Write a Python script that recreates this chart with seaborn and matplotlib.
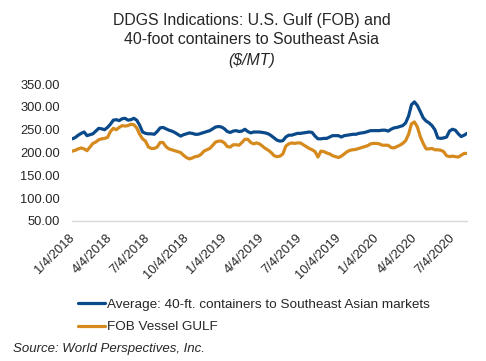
import pandas as pd
import matplotlib.pyplot as plt
import seaborn as sns

# Weekly indications, $/MT
start_date = "2018-01-04"
container_avg = [
    230, 233, 238, 242, 245, 237, 239, 241, 247, 253, 252, 250, 255, 262, 271, 272,
    270, 274, 275, 271, 272, 275, 271, 260, 245, 242, 241, 241, 240, 246, 254, 255,
    252, 249, 247, 244, 240, 236, 239, 241, 243, 242, 240, 240, 242, 244, 246, 248,
    252, 256, 257, 256, 252, 246, 244, 247, 248, 246, 247, 251, 246, 243, 245, 245,
    245, 244, 243, 241, 237, 232, 227, 225, 226, 234, 238, 238, 240, 242, 242, 243,
    244, 245, 244, 236, 230, 230, 231, 231, 234, 237, 237, 237, 234, 237, 238, 239,
    240, 240, 242, 243, 244, 246, 248, 248, 248, 248, 249, 249, 247, 251, 254, 255,
    257, 259, 265, 280, 305, 311, 303, 290, 276, 269, 265, 259, 250, 232, 231, 232,
    234, 247, 251, 249, 241, 235, 238, 242,
]
fob_gulf = [
    203, 205, 208, 210, 208, 204, 212, 220, 223, 228, 230, 231, 233, 246, 253, 250,
    255, 259, 258, 259, 262, 261, 254, 240, 230, 225, 212, 209, 209, 212, 222, 222,
    213, 208, 206, 204, 202, 200, 194, 189, 186, 188, 191, 192, 196, 203, 206, 209,
    216, 223, 225, 225, 221, 213, 212, 217, 217, 216, 222, 229, 229, 222, 219, 221,
    219, 214, 209, 205, 200, 193, 191, 192, 197, 214, 219, 221, 220, 221, 221, 217,
    213, 209, 206, 202, 190, 203, 202, 199, 197, 193, 191, 189, 192, 197, 202, 205,
    206, 207, 209, 211, 213, 215, 219, 220, 220, 219, 216, 216, 216, 211, 210, 213,
    216, 220, 226, 240, 263, 267, 256, 235, 220, 208, 208, 209, 206, 206, 205, 202,
    193, 191, 192, 191, 190, 194, 198, 198,
]
tick_labels = ["1/4/2018", "4/4/2018", "7/4/2018", "10/4/2018", "1/4/2019", "4/4/2019",
               "7/4/2019", "10/4/2019", "1/4/2020", "4/4/2020", "7/4/2020"]
series_names = ["Average: 40-ft. containers to Southeast Asian markets", "FOB Vessel GULF"]
colors = {series_names[0]: "#0B4A8A", series_names[1]: "#D68A1E"}

dates = pd.date_range(start_date, periods=len(container_avg), freq="7D")
df = pd.DataFrame({"Date": dates, series_names[0]: container_avg, series_names[1]: fob_gulf})
long_df = df.melt(id_vars="Date", var_name="Series", value_name="Price")

sns.set_style("white")
plt.rcParams["font.family"] = ["Liberation Sans", "DejaVu Sans"]

fig = plt.figure(figsize=(4.86, 3.61), dpi=100)
ax = fig.add_axes([0.149, 0.388, 0.812, 0.379])

sns.lineplot(data=long_df, x="Date", y="Price", hue="Series", palette=colors,
             linewidth=2.3, ax=ax, legend=False)

ax.set_ylim(50, 350)
ax.set_yticks(range(50, 351, 50))
ax.set_yticklabels([f"{v:.2f}" for v in range(50, 351, 50)], fontsize=9.3)
ax.set_xlim(dates[0], dates[-1])
ticks = pd.to_datetime(tick_labels, format="%m/%d/%Y")
ax.set_xticks(ticks)
ax.set_xticklabels(tick_labels, rotation=45, ha="right", va="center",
                   rotation_mode="anchor", fontsize=9.3)
ax.tick_params(axis="y", length=0, pad=9)
ax.tick_params(axis="x", length=0, pad=11)
ax.set_xlabel("")
ax.set_ylabel("")
for s in ["top", "right", "left"]:
    ax.spines[s].set_visible(False)
ax.spines["bottom"].set_color("#D9D9D9")
ax.spines["bottom"].set_linewidth(1)

# Title lines
fig.text(0.518, 1 - 21 / 361, "DDGS Indications: U.S. Gulf (FOB) and", ha="center", va="center", fontsize=11.4)
fig.text(0.518, 1 - 40 / 361, "40-foot containers to Southeast Asia", ha="center", va="center", fontsize=11.4)
fig.text(0.518, 1 - 60 / 361, "($/MT)", ha="center", va="center", fontsize=11.4, style="italic")

# Legend
handles = [plt.Line2D([], [], color=colors[n], linewidth=2.3) for n in series_names]
fig.legend(handles, series_names, loc="upper left", bbox_to_anchor=(0.15, 1 - 293 / 361),
           frameon=False, fontsize=9.7, handlelength=2.0, handletextpad=0.15,
           labelspacing=0.75, borderaxespad=0)

fig.text(13 / 486, 1 - 349 / 361, "Source: World Perspectives, Inc.", ha="left", va="center",
         fontsize=9.5, style="italic")

fig.savefig("out.png", dpi=100)
